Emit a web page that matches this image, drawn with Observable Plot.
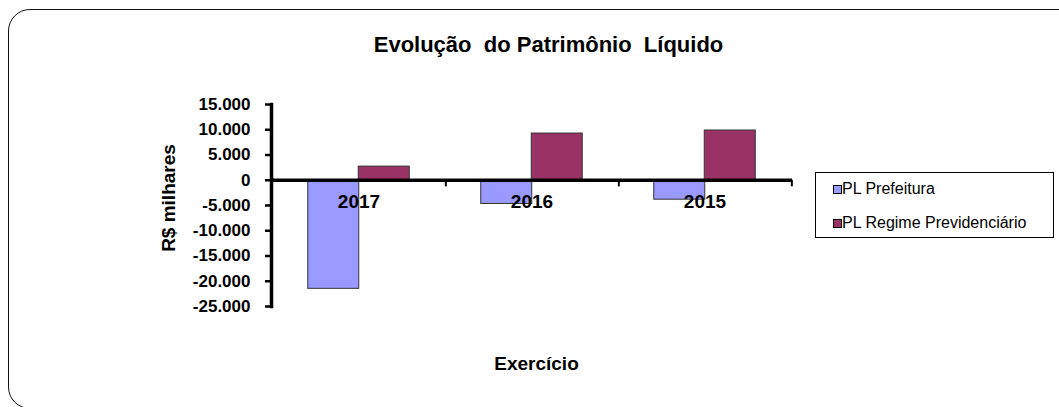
<!DOCTYPE html>
<html>
<head>
<meta charset="utf-8">
<script src="https://cdn.jsdelivr.net/npm/d3@7"></script>
<script src="https://cdn.jsdelivr.net/npm/@observablehq/plot@0.6"></script>
<style>
  html, body { margin: 0; padding: 0; background: #fff; overflow: hidden; }
  #wrap { position: relative; width: 1059px; height: 407px; overflow: hidden; font-family: "Liberation Sans", Arial, sans-serif; }
  #border { position: absolute; left: 8px; top: 9px; width: 1085px; height: 399.5px; border: 1.5px solid #111; border-radius: 22px; box-sizing: border-box; }
  #chart { position: absolute; left: 0; top: 0; }
  .title { position: absolute; top: 33.7px; left: 548.5px; transform: translateX(-50%); font-weight: bold; font-size: 22px; line-height: 22px; white-space: pre; color: #000; }
  .xlabel { position: absolute; top: 354px; left: 536.5px; transform: translateX(-50%); font-weight: bold; font-size: 19px; line-height: 19px; white-space: pre; color: #000; }
  .ylabel { position: absolute; left: 168px; top: 198px; transform: translate(-50%, -50%) rotate(-90deg); font-weight: bold; font-size: 19px; line-height: 19px; white-space: pre; color: #000; }
  #legend { position: absolute; left: 815px; top: 172px; width: 239px; height: 66px; border: 1px solid #000; box-sizing: border-box; background: #fff; }
  .item { position: absolute; left: 17px; font-size: 16px; line-height: 16px; white-space: pre; color: #000; display: flex; align-items: center; }
  .sw { display: inline-block; width: 7px; height: 7px; border: 1px solid #000; margin-right: 0px; }
</style>
</head>
<body>
<div id="wrap">
  <div id="border"></div>
  <div id="chart"></div>
  <div class="title">Evolução  do Patrimônio  Líquido</div>
  <div class="ylabel">R$ milhares</div>
  <div class="xlabel">Exercício</div>
  <div id="legend"></div>
</div>
<script>
// ---- data ----
const years = ["2017", "2016", "2015"];
const seriesNames = ["PL Prefeitura", "PL Regime Previdenciário"];
const plPrefeitura = [-21500, -4700, -3850];
const plRegime = [2700, 9250, 9850];
const yTicks = [15000, 10000, 5000, 0, -5000, -10000, -15000, -20000, -25000];
const seriesColors = ["#9999FF", "#993366"];

const rows = [];
years.forEach((y, i) => {
  rows.push({year: y, series: seriesNames[0], value: plPrefeitura[i]});
  rows.push({year: y, series: seriesNames[1], value: plRegime[i]});
});

const locale = d3.formatLocale({decimal: ",", thousands: ".", grouping: [3], currency: ["R$", ""], minus: "-"});
const fmt = locale.format(",");

const W = 1059, H = 407;
const mL = 271, mR = 267, mT = 104, mB = 101;
const step = (W - mL - mR) / years.length;

const chart = Plot.plot({
  width: W,
  height: H,
  marginLeft: mL,
  marginRight: mR,
  marginTop: mT,
  marginBottom: mB,
  style: {background: "transparent", fontFamily: "'Liberation Sans', Arial, sans-serif", color: "#000"},
  x: {domain: years, paddingInner: 0.708, paddingOuter: 0.354, axis: null},
  y: {domain: [-25000, 15000], axis: null},
  color: {domain: seriesNames, range: seriesColors},
  marks: [
    Plot.barY(rows.filter(d => d.series === seriesNames[0]), {x: "year", y: "value", fill: "series", stroke: "#333", strokeWidth: 1, dx: -25.25}),
    Plot.barY(rows.filter(d => d.series === seriesNames[1]), {x: "year", y: "value", fill: "series", stroke: "#333", strokeWidth: 1, dx: 25.25}),
    Plot.ruleY([0], {stroke: "#000", strokeWidth: 3.5}),
    Plot.ruleX(years, {x: d => d, dx: step / 2, y1: 0, y2: -1300, stroke: "#000", strokeWidth: 2}),
    Plot.frame({anchor: "left", stroke: "#000", strokeWidth: 3.5}),
    Plot.axisY({ticks: yTicks, tickFormat: fmt, tickSize: 6, tickPadding: 15, strokeWidth: 2.5, fontSize: 17, fontWeight: "bold", label: null}),
    Plot.text(years, {x: d => d, y: 0, text: d => d, dy: 22, fontSize: 19, fontWeight: "bold", fill: "#000"})
  ]
});
document.getElementById("chart").appendChild(chart);

// legend
const lg = document.getElementById("legend");
seriesNames.forEach((name, i) => {
  const it = document.createElement("div");
  it.className = "item";
  it.style.top = (i === 0 ? 8 : 42) + "px";
  const sw = document.createElement("span");
  sw.className = "sw";
  sw.style.background = seriesColors[i];
  it.appendChild(sw);
  it.appendChild(document.createTextNode(name));
  lg.appendChild(it);
});
</script>
</body>
</html>
